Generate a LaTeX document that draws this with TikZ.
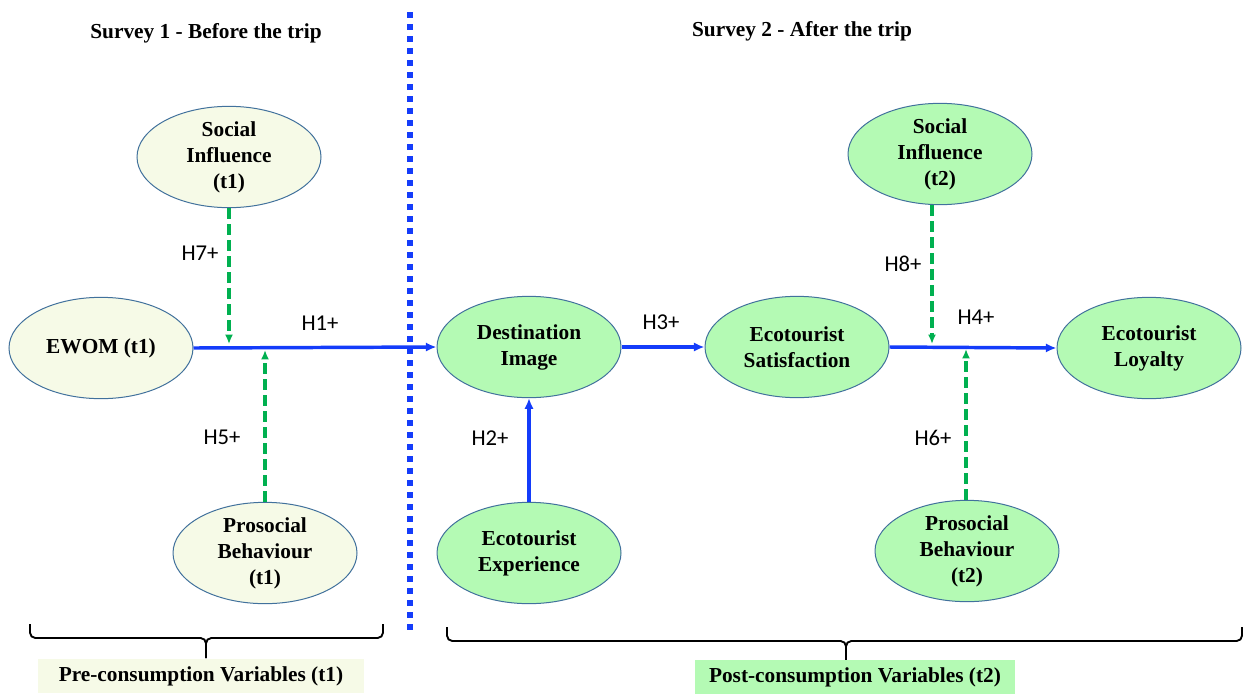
\documentclass[tikz,border=0pt]{standalone}
\usepackage{fontspec}
\setmainfont{Liberation Serif}
\newfontfamily\hypfont{Carlito}
\usetikzlibrary{positioning}
\usetikzlibrary{shapes, arrows.meta}

\definecolor{prefill}{RGB}{246,250,231}
\definecolor{postfill}{RGB}{180,250,180}
\definecolor{rimblue}{RGB}{65,113,156}
\definecolor{pathblue}{RGB}{20,60,250}
\definecolor{modgreen}{RGB}{0,176,80}

\tikzset{
	var/.style={ellipse,draw=rimblue,line width=0.75pt,minimum width=138pt,minimum height=76pt,inner sep=0pt,align=center,font=\fontsize{16}{19.5}\selectfont\bfseries},
	prevar/.style={var,fill=prefill},
	postvar/.style={var,fill=postfill},
	hpath/.style={pathblue,line width=2.6pt,-{Latex[length=8pt,width=7pt]}},
	moder/.style={modgreen,line width=2.4pt,dash pattern=on 8pt off 4pt,-{Latex[length=7pt,width=6pt]}},
	hyp/.style={font=\hypfont\fontsize{17}{19}\selectfont},
	heading/.style={font=\fontsize{16}{18}\selectfont\bfseries},
	bracket/.style={black,line width=1.4pt,rounded corners=4pt}
}

\begin{document}
\begin{tikzpicture}[x=0.75pt,y=-0.75pt]
	%frame
	\useasboundingbox (0,0) rectangle (1245,693);
	% Headings
	\node[heading] (s1) at (206,33) {Survey 1 - Before the trip};
	\node[heading] (s2) at (802,31) {Survey 2 - After the trip};
	% Split between surveys
	\draw[pathblue,line width=4.5pt,dash pattern=on 4.5pt off 4.5pt] (410,12) -- (410,634);
	% Survey 1
	\node[prevar] (si1) at (229,157) {Social\\Influence\\(t1)};
	\node[prevar] (ewom) at (101,348) {EWOM (t1)};
	\node[prevar] (pb1) at (265,553) {Prosocial\\Behaviour\\(t1)};
	% Survey 2
	\node[postvar] (di) at (529,347) {Destination\\Image};
	\node[postvar] (ee) at (529,553) {Ecotourist\\Experience};
	\node[postvar] (es) at (797,347) {Ecotourist\\Satisfaction};
	\node[postvar] (el) at (1149,348) {Ecotourist\\Loyalty};
	\node[postvar] (si2) at (940,154) {Social\\Influence\\(t2)};
	\node[postvar] (pb2) at (967,551) {Prosocial\\Behaviour\\(t2)};
	% Main paths
	\draw[hpath] (ewom.east) -- (di.west);
	\draw[hpath] (ee.north) -- (di.south);
	\draw[hpath] (di.east) -- (es.west);
	\draw[hpath] (es.east) -- (el.west);
	% Moderators
	\coordinate (h7) at (229,344);
	\coordinate (h5) at (265,350);
	\coordinate (h8) at (932,344);
	\coordinate (h6) at (966,349);
	\draw[moder] (si1.south) -- (h7);
	\draw[moder] (pb1.north) -- (h5);
	\draw[moder] (si2.south -| h8) -- (h8);
	\draw[moder] (pb2.north -| h6) -- (h6);
	% Labels
	\node[hyp] (l1) at (320,323) {H1+};
	\node[hyp] (l2) at (490,438) {H2+};
	\node[hyp] (l3) at (661,322) {H3+};
	\node[hyp] (l4) at (976,317) {H4+};
	\node[hyp] (l5) at (222,437) {H5+};
	\node[hyp] (l6) at (933,438) {H6+};
	\node[hyp] (l7) at (200,253) {H7+};
	\node[hyp] (l8) at (903,264) {H8+};
	% Braces
	\draw[bracket] (30,624) |- (206,638) -- (206,658);
	\draw[bracket] (383,624) |- (206,638) -- (206,658);
	\draw[bracket] (447,627) |- (846,641) -- (846,661);
	\draw[bracket] (1242,627) |- (846,641) -- (846,661);
	\node[heading,fill=prefill,minimum width=244pt,minimum height=26pt,inner sep=0pt] (pre) at (201,676) {Pre-consumption Variables (t1)};
	\node[heading,fill=postfill,minimum width=240pt,minimum height=25pt,inner sep=0pt] (post) at (855,677) {Post-consumption Variables (t2)};
\end{tikzpicture}
\end{document}
